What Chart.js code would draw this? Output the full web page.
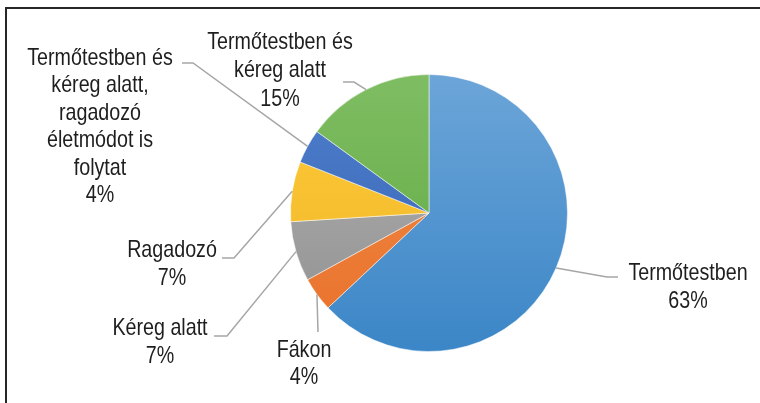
<!DOCTYPE html>
<html>
<head>
<meta charset="utf-8">
<script src="https://cdn.jsdelivr.net/npm/chart.js@4"></script>
<style>
  body { margin: 0; background: #fff; }
  #wrap { position: relative; width: 760px; height: 403px; overflow: hidden; }
  #frame { position: absolute; left: 5px; top: 7px; right: -4px; bottom: -4px;
           border-top: 2px solid #262626; border-left: 2px solid #262626; }
  #myChart { position: absolute; left: 0; top: 0; }
</style>
</head>
<body>
<div id="wrap">
  <div id="frame"></div>
  <canvas id="myChart" width="760" height="403"></canvas>
</div>
<script>
// categories (each one already split in lines, like in the picture)
const categories = [
  ['Termőtestben'],
  ['Fákon'],
  ['Kéreg alatt'],
  ['Ragadozó'],
  ['Termőtestben és', 'kéreg alatt,', 'ragadozó', 'életmódot is', 'folytat'],
  ['Termőtestben és', 'kéreg alatt']
];
// share in percent
const values = [63, 4, 7, 7, 4, 15];

// colours: light top, dark bottom (excel gradient look)
const topColors    = ['#6ca5d8', '#f28d4a', '#b4b4b4', '#ffca3a', '#4f7fcc', '#7fbd63'];
const bottomColors = ['#3b86c7', '#e8702a', '#8e8e8e', '#eeb526', '#3562b2', '#5ea83e'];

// where the label text goes, and where its leader line starts / bends
const labelPos = [
  { x: 688, y: 273, lh: 28, start: [618, 277], bend: [607, 277] },
  { x: 304, y: 350, lh: 27, start: [318, 332], bend: [318, 332] },
  { x: 160, y: 328, lh: 28, start: [214, 336], bend: [227, 336] },
  { x: 172, y: 250, lh: 28, start: [222, 258], bend: [234, 258] },
  { x: 100, y: 58,  lh: 27.5, start: [182, 63], bend: [193, 63] },
  { x: 280, y: 42,  lh: 28.5, start: [343, 82], bend: [354, 82] }
];

const labelPlugin = {
  id: 'pieLabels',
  afterDraw(chart) {
    const c = chart.ctx;
    const meta = chart.getDatasetMeta(0);
    c.save();
    meta.data.forEach((arc, i) => {
      const p = labelPos[i];
      const a = (arc.startAngle + arc.endAngle) / 2;
      const ex = arc.x + Math.cos(a) * arc.outerRadius;
      const ey = arc.y + Math.sin(a) * arc.outerRadius;
      // leader line
      c.strokeStyle = '#a6a6a6';
      c.lineWidth = 1.5;
      c.beginPath();
      c.moveTo(p.start[0], p.start[1]);
      c.lineTo(p.bend[0], p.bend[1]);
      c.lineTo(ex, ey);
      c.stroke();
      // text
      const lines = categories[i].concat([values[i] + '%']);
      c.fillStyle = '#1e1e1e';
      c.font = '24px "Liberation Sans", Arial, sans-serif';
      c.textAlign = 'center';
      c.textBaseline = 'middle';
      lines.forEach((t, k) => {
        c.save();
        c.translate(p.x, p.y + k * p.lh);
        c.scale(0.82, 1);
        c.fillText(t, 0, 0);
        c.restore();
      });
    });
    c.restore();
  }
};

var ctx = document.getElementById('myChart').getContext('2d');
var myChart = new Chart(ctx, {
  type: 'pie',
  data: {
    labels: categories,
    datasets: [{
      data: values,
      backgroundColor: function(context) {
        const area = context.chart.chartArea;
        const i = context.dataIndex;
        if (!area) return bottomColors[i];
        const g = context.chart.ctx.createLinearGradient(0, area.top, 0, area.bottom);
        g.addColorStop(0, topColors[i]);
        g.addColorStop(1, bottomColors[i]);
        return g;
      },
      borderColor: 'rgba(255,255,255,0.5)',
      borderWidth: 1
    }]
  },
  options: {
    responsive: false,
    animation: false,
    layout: { padding: { top: 74, bottom: 51, left: 290, right: 192 } },
    plugins: {
      legend: { display: false },
      tooltip: { enabled: false }
    }
  },
  plugins: [labelPlugin]
});
</script>
</body>
</html>
